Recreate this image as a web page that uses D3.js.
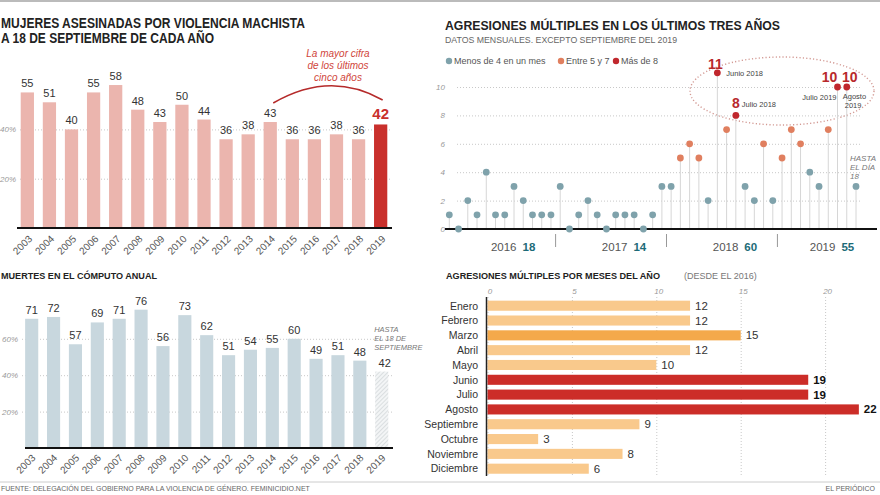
<!DOCTYPE html>
<html><head><meta charset="utf-8">
<script src="https://cdn.jsdelivr.net/npm/d3@7"></script>
<style>
body{margin:0;background:#fff;}
svg{display:block;font-family:"Liberation Sans",Arial,Helvetica,sans-serif;}
</style></head><body>
<svg id="c" width="880" height="495"></svg>
<script>
// ---------- DATA ----------
const years = ["2003","2004","2005","2006","2007","2008","2009","2010","2011","2012","2013","2014","2015","2016","2017","2018","2019"];
const asesinadas18Sep = [55,51,40,55,58,48,43,50,44,36,38,43,36,36,38,36,42];
const computoAnual = [71,72,57,69,71,76,56,73,62,51,54,55,60,49,51,48,42];
const gridTicksTop = [20,40];
const gridTicksBottom = [20,40,60];

const lolliYears = ["2016","2017","2018","2019"];
const lolliTotals = [18,14,60,55];
const monthly = [1,0,2,1,4,1,1,3,2,1,1,1,
                 3,0,1,2,1,0,1,1,1,0,1,3,
                 3,5,6,5,2,11,7,8,3,2,6,2,
                 5,7,6,4,3,7,10,10,3];
const lolliTicks = [0,2,4,6,8,10];
const legendLabels = ["Menos de 4 en un mes","Entre 5 y 7","Más de 8"];

const meses = ["Enero","Febrero","Marzo","Abril","Mayo","Junio","Julio","Agosto","Septiembre","Octubre","Noviembre","Diciembre"];
const porMes = [12,12,15,12,10,19,19,22,9,3,8,6];
const mesTicks = [0,5,10,15,20];

// ---------- SETUP ----------
const svg = d3.select("#c");
const RED = "#c9302c", PINK = "#ebb5ae", BLUEGRAY = "#c8d7de";
const C_LOW = "#7fa2ab", C_MID = "#e07f5f", C_HIGH = "#c0272d";
const defs = svg.append("defs");
const pat = defs.append("pattern").attr("id","hatch").attr("patternUnits","userSpaceOnUse")
  .attr("width",3).attr("height",3).attr("patternTransform","rotate(45)");
pat.append("rect").attr("width",3).attr("height",3).attr("fill","#f3f5f6");
pat.append("line").attr("x1",0).attr("y1",0).attr("x2",0).attr("y2",3).attr("stroke","#c9cfd2").attr("stroke-width",1.2);

svg.append("line").attr("x1",0).attr("x2",880).attr("y1",1).attr("y2",1).attr("stroke","#bbb").attr("stroke-width",2);

function styleGrid(g, labelColor){
  g.select(".domain").remove();
  g.selectAll(".tick line").attr("stroke","#c8c8c8").attr("stroke-dasharray","1,2");
  g.selectAll(".tick text").attr("fill",labelColor||"#999").attr("font-style","italic").attr("font-size",8)
    .attr("font-family","'Liberation Sans',Arial,sans-serif");
}

// ---------- TOP LEFT ----------
svg.append("text").attr("x",1).attr("y",28).attr("font-size",14).attr("font-weight","bold").attr("fill","#222")
  .attr("textLength",304).attr("lengthAdjust","spacingAndGlyphs").text("MUJERES ASESINADAS POR VIOLENCIA MACHISTA");
svg.append("text").attr("x",1).attr("y",43).attr("font-size",14).attr("font-weight","bold").attr("fill","#222")
  .attr("textLength",213).attr("lengthAdjust","spacingAndGlyphs").text("A 18 DE SEPTIEMBRE DE CADA AÑO");

const x1 = d3.scaleBand().domain(years).range([16.3,391.7]).paddingInner(0.4).paddingOuter(0.2);
const y1 = d3.scaleLinear().domain([0,60]).range([228,80.1]);
const g1grid = svg.append("g").attr("transform","translate(390,0)")
  .call(d3.axisLeft(y1).tickValues(gridTicksTop).tickSize(372).tickPadding(2).tickFormat(d=>d+"%"));
styleGrid(g1grid);
svg.append("g").selectAll("rect").data(years).join("rect")
  .attr("x",d=>x1(d)).attr("width",x1.bandwidth())
  .attr("y",(d,i)=>y1(asesinadas18Sep[i])).attr("height",(d,i)=>y1(0)-y1(asesinadas18Sep[i]))
  .attr("fill",(d,i)=>i===years.length-1?RED:PINK);
svg.append("g").selectAll("text").data(years).join("text")
  .attr("x",d=>x1(d)+x1.bandwidth()/2)
  .attr("y",(d,i)=>y1(asesinadas18Sep[i])-5)
  .attr("text-anchor","middle")
  .attr("font-size",(d,i)=>i===years.length-1?15:11)
  .attr("font-weight",(d,i)=>i===years.length-1?"bold":"normal")
  .attr("fill",(d,i)=>i===years.length-1?RED:"#333")
  .text((d,i)=>asesinadas18Sep[i]);
const ax1 = svg.append("g").attr("transform","translate(0,228)").call(d3.axisBottom(x1).tickSize(0));
ax1.select(".domain").remove();
ax1.selectAll("text").attr("text-anchor","end").attr("x",0).attr("y",0).attr("dy","0.35em")
  .attr("transform","translate(3,9) rotate(-45)").attr("font-size",10).attr("fill","#555")
  .attr("font-family","'Liberation Sans',Arial,sans-serif");
svg.append("line").attr("x1",17).attr("x2",392).attr("y1",228).attr("y2",228).attr("stroke","#111").attr("stroke-width",2);

// annotation
const ann = ["La mayor cifra","de los últimos","cinco años"];
svg.append("g").selectAll("text").data(ann).join("text")
  .attr("x",338).attr("y",(d,i)=>57+i*12.2).attr("text-anchor","middle")
  .attr("font-size",10).attr("font-style","italic").attr("fill","#d0453a").text(d=>d);
svg.append("path").attr("d",`M${x1("2014")+x1.bandwidth()/2+3},103 Q330,70 ${x1("2019")+x1.bandwidth()/2+2},100`)
  .attr("fill","none").attr("stroke","#b52a2a").attr("stroke-width",1.5);

// ---------- TOP RIGHT (lollipop) ----------
svg.append("text").attr("x",445).attr("y",30).attr("font-size",13).attr("font-weight","bold").attr("fill","#222")
  .attr("textLength",335).attr("lengthAdjust","spacingAndGlyphs").text("AGRESIONES MÚLTIPLES EN LOS ÚLTIMOS TRES AÑOS");
svg.append("text").attr("x",445).attr("y",43).attr("font-size",9).attr("fill","#666")
  .attr("textLength",232).attr("lengthAdjust","spacingAndGlyphs").text("DATOS MENSUALES. EXCEPTO SEPTIEMBRE DEL 2019");

const catColor = v => v>=8?C_HIGH:(v>=5?C_MID:C_LOW);
const legendColors = [C_LOW,C_MID,C_HIGH];
const legX = [449,561,616];
const lg = svg.append("g");
lg.selectAll("circle").data(legendLabels).join("circle")
  .attr("cx",(d,i)=>legX[i]).attr("cy",61).attr("r",3.2).attr("fill",(d,i)=>legendColors[i]);
lg.selectAll("text").data(legendLabels).join("text")
  .attr("x",(d,i)=>legX[i]+5).attr("y",64.3).attr("font-size",9).attr("fill","#555").text(d=>d);

const idx = d3.range(monthly.length);
const xL = d3.scalePoint().domain(idx).range([449.3,856]);
const yL = d3.scaleLinear().domain([0,11]).range([229,72.8]);
const gL = svg.append("g").attr("transform","translate(860,0)")
  .call(d3.axisLeft(yL).tickValues(lolliTicks).tickSize(404).tickPadding(11));
styleGrid(gL);
// ellipse highlight
svg.append("ellipse").attr("cx",782).attr("cy",91).attr("rx",92).attr("ry",34)
  .attr("fill","none").attr("stroke","#d39a94").attr("stroke-width",1.4).attr("stroke-dasharray","1.2,2.2");
svg.append("g").selectAll("line").data(idx).join("line")
  .attr("x1",i=>xL(i)).attr("x2",i=>xL(i)).attr("y1",yL(0)).attr("y2",i=>yL(monthly[i]))
  .attr("stroke","#d6d6d6").attr("stroke-width",1);
svg.append("line").attr("x1",445).attr("x2",877).attr("y1",229).attr("y2",229).attr("stroke","#111").attr("stroke-width",2);
svg.append("g").selectAll("circle").data(idx).join("circle")
  .attr("cx",i=>xL(i)).attr("cy",i=>yL(monthly[i])).attr("r",3.4).attr("fill",i=>catColor(monthly[i]));
// year dividers & labels
[12,24,36].forEach(i=>{
  const xm=(xL(i-1)+xL(i))/2;
  svg.append("line").attr("x1",xm).attr("x2",xm).attr("y1",234).attr("y2",247).attr("stroke","#999").attr("stroke-width",1);
});
lolliYears.forEach((yr,k)=>{
  const ids = idx.filter(i=>Math.floor(i/12)===k);
  const cx = d3.mean(ids,i=>xL(i))+13;
  const t = svg.append("text").attr("x",cx).attr("y",251).attr("text-anchor","middle").attr("font-size",11.5);
  t.append("tspan").attr("fill","#555").text(yr);
  t.append("tspan").attr("dx",6).attr("fill","#1d6b78").attr("font-weight","bold").text(lolliTotals[k]);
});
// point annotations
const big = (i,dx,dy)=>svg.append("text").attr("x",xL(i)+dx).attr("y",yL(monthly[i])+dy).attr("text-anchor","middle")
  .attr("font-size",14).attr("font-weight","bold").attr("fill","#b8292c").text(monthly[i]);
const small = (txt,x,y,anchor)=>svg.append("text").attr("x",x).attr("y",y).attr("text-anchor",anchor||"start")
  .attr("font-size",7.5).attr("fill","#444").text(txt);
big(29,-2,-4); small("Junio 2018",xL(29)+9,yL(11)+3);
big(31,0,-7); small("Julio 2018",xL(31)+6,yL(8)-8);
big(42,-8,-5); big(43,3,-5);
small("Julio 2019",xL(42)-1,yL(10)+13,"end");
small("Agosto",xL(43)-4,yL(10)+12); small("2019",xL(43)-2,yL(10)+20.5);
["HASTA","EL DÍA","18"].forEach((t,i)=>svg.append("text").attr("x",850).attr("y",161+i*9)
  .attr("font-size",8).attr("font-style","italic").attr("fill","#777").text(t));

// ---------- BOTTOM LEFT ----------
svg.append("text").attr("x",1).attr("y",279).attr("font-size",9.5).attr("font-weight","bold").attr("fill","#222")
  .attr("textLength",156).attr("lengthAdjust","spacingAndGlyphs").text("MUERTES EN EL CÓMPUTO ANUAL");
const x2 = d3.scaleBand().domain(years).range([20.76,392.64]).paddingInner(0.4).paddingOuter(0.2);
const y2 = d3.scaleLinear().domain([0,80]).range([448,302.4]);
const g2grid = svg.append("g").attr("transform","translate(392,0)")
  .call(d3.axisLeft(y2).tickValues(gridTicksBottom).tickSize(372).tickPadding(2).tickFormat(d=>d+"%"));
styleGrid(g2grid);
svg.append("g").selectAll("rect").data(years).join("rect")
  .attr("x",d=>x2(d)).attr("width",x2.bandwidth())
  .attr("y",(d,i)=>y2(computoAnual[i])).attr("height",(d,i)=>y2(0)-y2(computoAnual[i]))
  .attr("fill",(d,i)=>i===years.length-1?"url(#hatch)":BLUEGRAY);
svg.append("g").selectAll("text").data(years).join("text")
  .attr("x",(d,i)=>x2(d)+x2.bandwidth()/2+(i===years.length-1?3:0))
  .attr("y",(d,i)=>y2(computoAnual[i])-5)
  .attr("text-anchor","middle").attr("font-size",11).attr("fill","#333")
  .text((d,i)=>computoAnual[i]);
["HASTA","EL 18 DE","SEPTIEMBRE"].forEach((t,i)=>svg.append("text").attr("x",x2("2019")-1).attr("y",332+i*9)
  .attr("font-size",7.5).attr("font-style","italic").attr("fill","#777").text(t));
const ax2 = svg.append("g").attr("transform","translate(0,448)").call(d3.axisBottom(x2).tickSize(0));
ax2.select(".domain").remove();
ax2.selectAll("text").attr("text-anchor","end").attr("x",0).attr("y",0).attr("dy","0.35em")
  .attr("transform","translate(2,8) rotate(-45)").attr("font-size",10).attr("fill","#555")
  .attr("font-family","'Liberation Sans',Arial,sans-serif");
svg.append("line").attr("x1",25).attr("x2",393).attr("y1",448).attr("y2",448).attr("stroke","#111").attr("stroke-width",2);

// ---------- BOTTOM RIGHT ----------
svg.append("text").attr("x",446).attr("y",279).attr("font-size",9.5).attr("font-weight","bold").attr("fill","#222")
  .attr("textLength",214).attr("lengthAdjust","spacingAndGlyphs").text("AGRESIONES MÚLTIPLES POR MESES DEL AÑO");
svg.append("text").attr("x",684).attr("y",279).attr("font-size",9).attr("fill","#777").text("(DESDE EL 2016)");
const xB = d3.scaleLinear().domain([0,20]).range([487.5,825.1]);
const yB = d3.scaleBand().domain(meses).range([298.3,476.1]).paddingInner(0.32).paddingOuter(0.16);
const gB = svg.append("g").attr("transform","translate(0,297)")
  .call(d3.axisTop(xB).tickValues(mesTicks).tickSize(-179).tickPadding(3));
styleGrid(gB);
gB.selectAll(".tick text").attr("dx",2);
const barColor = v => v>=18?"#cc2d28":(v>=15?"#f4a94b":"#f9c98c");
svg.append("g").selectAll("rect").data(meses).join("rect")
  .attr("x",xB(0)).attr("y",d=>yB(d)).attr("height",yB.bandwidth())
  .attr("width",(d,i)=>xB(porMes[i])-xB(0)).attr("fill",(d,i)=>barColor(porMes[i]));
svg.append("g").selectAll("text").data(meses).join("text")
  .attr("x",(d,i)=>xB(porMes[i])+5).attr("y",d=>yB(d)+yB.bandwidth()/2+4)
  .attr("font-size",11.5).attr("font-weight",(d,i)=>porMes[i]>=18?"bold":"normal")
  .attr("fill",(d,i)=>porMes[i]>=18?"#111":"#333").text((d,i)=>porMes[i]);
svg.append("g").selectAll("text").data(meses).join("text")
  .attr("x",478).attr("y",d=>yB(d)+yB.bandwidth()/2+3.8).attr("text-anchor","end")
  .attr("font-size",10.5).attr("fill","#333").text(d=>d);
svg.append("line").attr("x1",486.5).attr("x2",486.5).attr("y1",297).attr("y2",476).attr("stroke","#222").attr("stroke-width",1.5);

// ---------- FOOTER ----------
svg.append("line").attr("x1",0).attr("x2",880).attr("y1",482).attr("y2",482).attr("stroke","#ccc").attr("stroke-width",1);
svg.append("text").attr("x",1).attr("y",490.5).attr("font-size",7).attr("fill","#666")
  .text("FUENTE: DELEGACIÓN DEL GOBIERNO PARA LA VIOLENCIA DE GÉNERO. FEMINICIDIO.NET");
svg.append("text").attr("x",875).attr("y",490.5).attr("text-anchor","end").attr("font-size",7).attr("fill","#666").text("EL PERIÓDICO");
</script>
</body></html>
